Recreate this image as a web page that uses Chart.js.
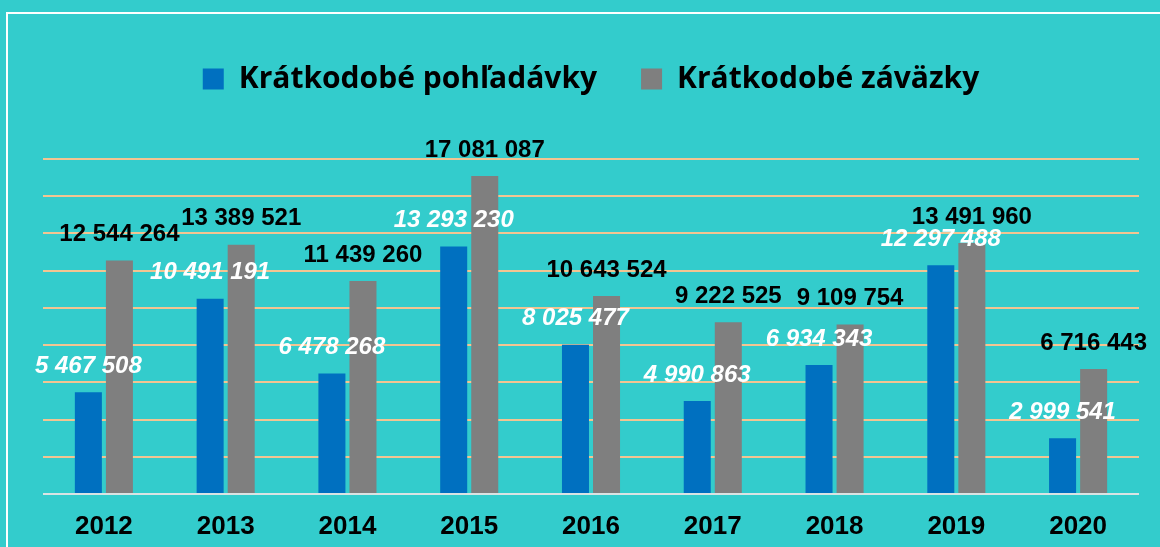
<!DOCTYPE html>
<html lang="sk">

<head>
    <meta charset="UTF-8">
    <title>Krátkodobé pohľadávky a záväzky</title>
    <script src="https://cdn.jsdelivr.net/npm/chart.js"></script>
    <style>
        body { margin: 0; background: #33cccc; }
        #wrap { position: relative; width: 1160px; height: 547px; overflow: hidden; }
        #frame { position: absolute; left: 6px; top: 12px; width: 1200px; height: 600px;
                 border-top: 2px solid #fff; border-left: 2px solid #fff; }
        canvas { position: absolute; left: 0; top: 0; }
    </style>
</head>

<body>
    <div id="wrap">
        <div id="frame"></div>
        <canvas id="graf" width="1160" height="547"></canvas>
    </div>

    <script>
        const roky = ['2012', '2013', '2014', '2015', '2016', '2017', '2018', '2019', '2020'];
        const pohladavky = [5467508, 10491191, 6478268, 13293230, 8025477, 4990863, 6934343, 12297488, 2999541];
        const zavazky = [12544264, 13389521, 11439260, 17081087, 10643524, 9222525, 9109754, 13491960, 6716443];

        function formatuj(v) {
            return String(v).replace(/\B(?=(\d{3})+(?!\d))/g, ' ');
        }

        // hodnoty nad stĺpcami
        const popisky = {
            id: 'popisky',
            afterDatasetsDraw(chart) {
                const ctx = chart.ctx;
                ctx.save();
                ctx.textAlign = 'center';
                ctx.textBaseline = 'middle';
                chart.data.datasets.forEach((ds, i) => {
                    const meta = chart.getDatasetMeta(i);
                    ctx.font = (i === 0 ? 'italic ' : '') + 'bold 24px "Liberation Sans", Arial, sans-serif';
                    ctx.fillStyle = i === 0 ? '#ffffff' : '#000000';
                    meta.data.forEach((bar, j) => {
                        ctx.fillText(formatuj(ds.data[j]), bar.x, bar.y - 26);
                    });
                });
                ctx.restore();
            }
        };

        // viac miesta pod legendou
        const legendaMiesto = {
            id: 'legendaMiesto',
            beforeInit(chart) {
                const povodny = chart.legend.fit;
                chart.legend.fit = function () {
                    povodny.bind(chart.legend)();
                    this.height += 55;
                };
            }
        };

        new Chart(document.getElementById('graf'), {
            type: 'bar',
            data: {
                labels: roky,
                datasets: [
                    {
                        label: 'Krátkodobé pohľadávky',
                        data: pohladavky,
                        backgroundColor: '#0070c0',
                        categoryPercentage: 0.51,
                        barPercentage: 0.87
                    },
                    {
                        label: 'Krátkodobé záväzky',
                        data: zavazky,
                        backgroundColor: '#7f7f7f',
                        categoryPercentage: 0.51,
                        barPercentage: 0.87
                    }
                ]
            },
            options: {
                responsive: false,
                animation: false,
                layout: { padding: { left: 43, right: 21, top: 20, bottom: 0 } },
                plugins: {
                    legend: {
                        labels: {
                            boxWidth: 21,
                            boxHeight: 21,
                            padding: 44,
                            color: '#000',
                            font: { family: '"Open Sans", sans-serif', size: 30, weight: 'bold' }
                        }
                    },
                    tooltip: { enabled: false }
                },
                scales: {
                    x: {
                        grid: { display: false, drawTicks: false },
                        border: { display: false },
                        afterFit(scale) { scale.height = 53; },
                        ticks: {
                            color: '#000',
                            padding: 17,
                            font: { family: '"Liberation Sans", Arial, sans-serif', size: 26, weight: 'bold' }
                        }
                    },
                    y: {
                        min: 0,
                        max: 18000000,
                        border: { display: false },
                        ticks: { display: false, stepSize: 2000000 },
                        grid: {
                            drawTicks: false,
                            lineWidth: 2,
                            color: c => c.tick.value === 0 ? '#d9e3e3' : '#f2c592'
                        }
                    }
                }
            },
            plugins: [popisky, legendaMiesto]
        });
    </script>
</body>

</html>
